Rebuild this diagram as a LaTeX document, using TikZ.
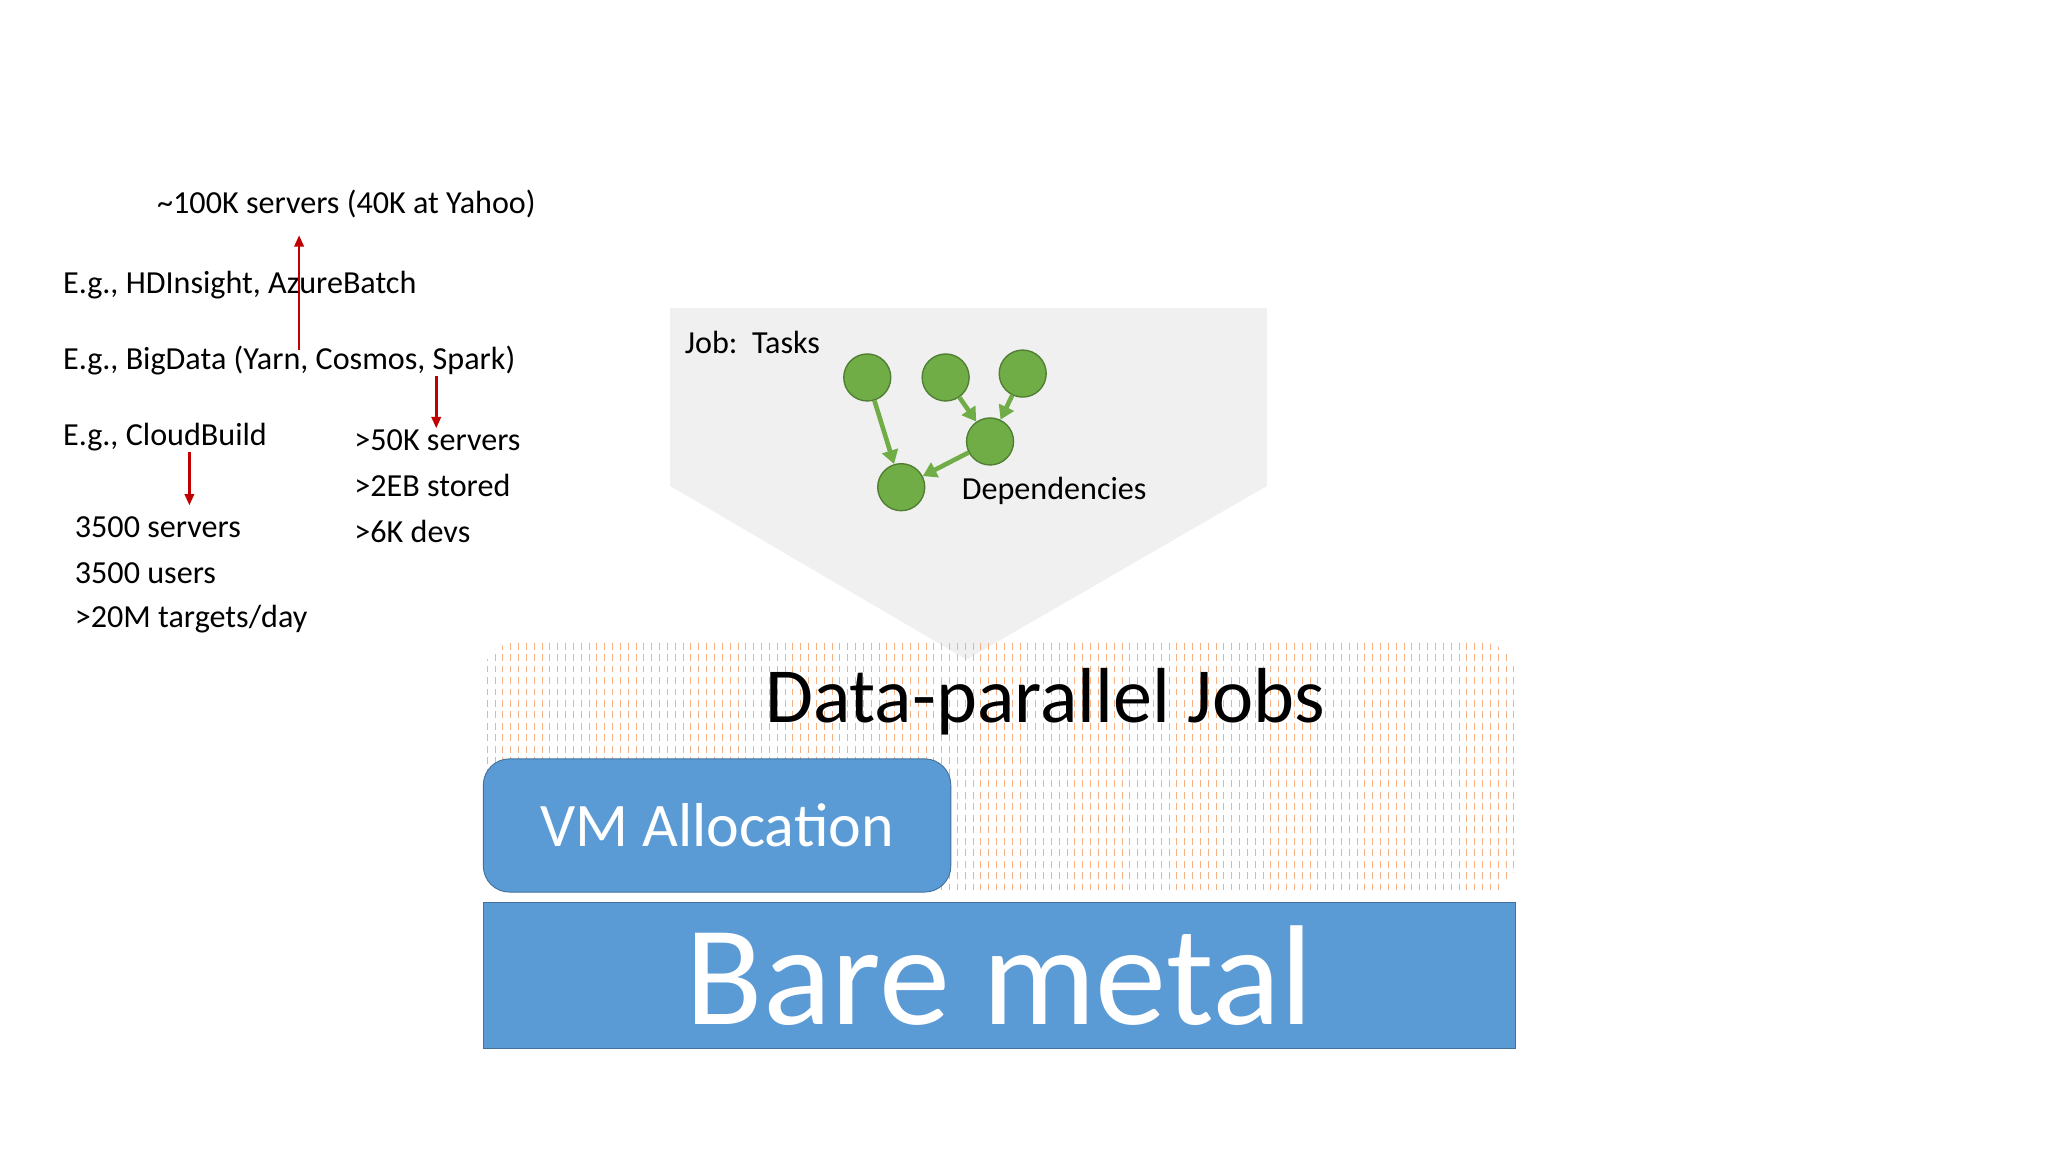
\documentclass[tikz,border=0pt]{standalone}
\usepackage{fontspec}
\setmainfont{Carlito}
\usetikzlibrary{arrows.meta}
\definecolor{blu}{HTML}{5B9BD5}
\definecolor{bluD}{HTML}{41719C}
\definecolor{grn}{HTML}{70AD47}
\definecolor{grnD}{HTML}{507E32}
\definecolor{redA}{HTML}{C00000}
\definecolor{org}{HTML}{F4B183}
\tikzset{x=0.02cm,y=-0.02cm,
 txt/.style={anchor=west,inner sep=0pt,font=\fontsize{14}{16}\selectfont},
 task/.style={circle,fill=grn,draw=grnD,line width=0.6pt,minimum size=0.72cm,inner sep=0pt},
 dep/.style={grn,line width=2pt,-{Triangle[length=6pt,width=7pt]}},
 redarr/.style={redA,line width=1.2pt,-{Triangle[length=5pt,width=4pt]}}}
\begin{document}
\begin{tikzpicture}
\useasboundingbox (0,0) rectangle (1568,882);
\fill[white] (0,0) rectangle (1568,882);
% job pentagon
\fill[gray!12] (513,236) -- (970,236) -- (970,372) -- (740,505) -- (513,372) -- cycle;
% dotted region
\begin{scope}
\clip[rounded corners=0.5cm] (370,492) rectangle (1160,685);
\foreach \i in {373,379,...,1160}{\draw[org,line width=0.4pt,dash pattern=on 3pt off 2pt] (\i,492) -- (\i,685);}
\end{scope}
\node[font=\fontsize{34}{40}\selectfont,inner sep=0pt] (dpj) at (800,537) {Data-parallel Jobs};
\node[draw=bluD,fill=blu,rounded corners=0.4cm,minimum width=7.16cm,minimum height=2.04cm,text=white,font=\fontsize{27}{32}\selectfont] (vm) at (549,632) {VM Allocation};
\node[draw=bluD,fill=blu,minimum width=15.8cm,minimum height=2.24cm,text=white,font=\fontsize{62}{70}\selectfont,inner sep=0pt] (bm) at (765,747) {Bare metal};
% job graph
\node[txt] (job) at (524,262) {Job:\ \ Tasks};
\node[task] (t1) at (664,289) {};
\node[task] (t2) at (724,289) {};
\node[task] (t3) at (783,286) {};
\node[task] (t4) at (758,338) {};
\node[task] (t5) at (690,373) {};
\draw[dep] (t1) -- (t5);
\draw[dep] (t2) -- (t4);
\draw[dep] (t3) -- (t4);
\draw[dep] (t4) -- (t5);
\node[txt] (deps) at (736,376) {Dependencies};
% left texts
\node[txt] (l1) at (120,156) {\char`\~100K servers (40K at Yahoo)};
\node[txt] (l2) at (48,218) {E.g., HDInsight, AzureBatch};
\node[txt] (l3) at (48,276) {E.g., BigData (Yarn, Cosmos, Spark)};
\node[txt] (l4) at (48,335) {E.g., CloudBuild};
\node[txt] (a1) at (271,337) {>50K servers};
\node[txt] (a2) at (271,372) {>2EB stored};
\node[txt] (a3) at (271,407) {>6K devs};
\node[txt] (b1) at (57,404) {3500 servers};
\node[txt] (b2) at (57,439) {3500 users};
\node[txt] (b3) at (57,474) {>20M targets/day};
\coordinate (r1s) at (229,268); \coordinate (r1e) at (229,180);
\coordinate (r2s) at (334,288); \coordinate (r2e) at (334,328);
\coordinate (r3s) at (145,346); \coordinate (r3e) at (145,387);
\draw[redarr] (r1s) -- (r1e);
\draw[redarr] (r2s) -- (r2e);
\draw[redarr] (r3s) -- (r3e);
\end{tikzpicture}
\end{document}
